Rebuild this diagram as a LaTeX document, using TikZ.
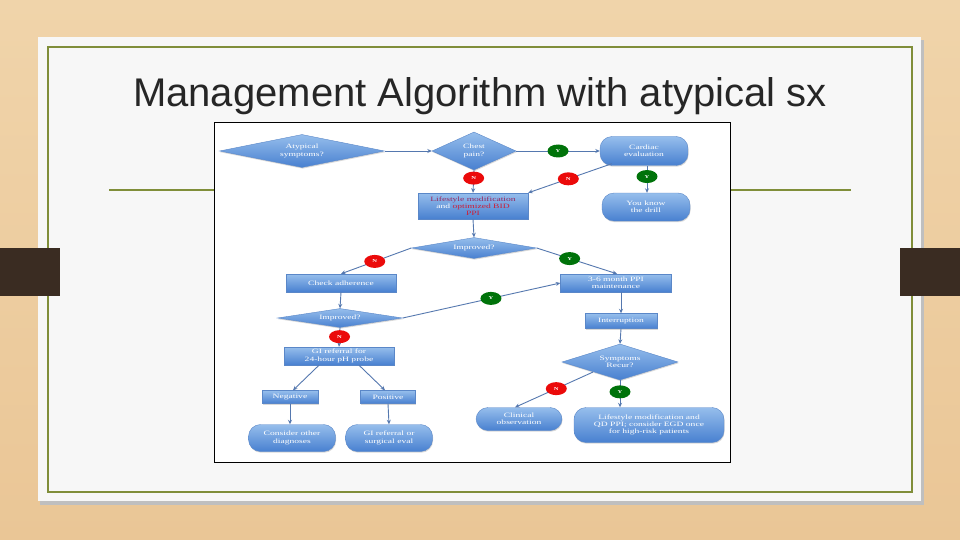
\documentclass[tikz,border=0pt]{standalone}
\usepackage{fontspec}
\setmainfont{Liberation Serif}
\newfontfamily\titlefont{Liberation Sans}
\newfontfamily\chartfont[FakeStretch=1.45]{Liberation Serif}
\usetikzlibrary{arrows.meta,positioning,shapes.geometric,shadows}
\definecolor{woodtop}{RGB}{240,212,170}
\definecolor{woodbot}{RGB}{234,198,150}
\definecolor{tabbrown}{RGB}{58,44,34}
\definecolor{slidegreen}{RGB}{128,142,58}
\definecolor{boxtop}{RGB}{150,190,236}
\definecolor{boxbot}{RGB}{72,128,208}
\definecolor{boxedge}{RGB}{90,135,200}
\definecolor{arrowc}{RGB}{85,120,175}
\definecolor{yesgreen}{RGB}{0,115,10}
\definecolor{nored}{RGB}{235,10,10}
\definecolor{lifepurple}{RGB}{150,40,95}
\definecolor{lifered}{RGB}{205,30,55}

\begin{document}
\begin{tikzpicture}[x=1pt,y=-1pt,
  every node/.style={font=\chartfont\fontsize{6.6}{7.3}\selectfont,text=white},
  box/.style={draw=boxedge,top color=boxtop,bottom color=boxbot,align=center,
              inner sep=1pt,drop shadow={shadow xshift=0.6pt,shadow yshift=-1.2pt,opacity=0.3}},
  term/.style={box,rounded corners=12pt},
  dec/.style={diamond,draw=boxedge,top color=boxtop,bottom color=boxbot,
              align=center,inner sep=0pt,drop shadow={shadow xshift=0.6pt,shadow yshift=-1.2pt,opacity=0.3}},
  arr/.style={-{Stealth[length=4.5pt,width=4pt]},draw=arrowc,line width=0.9pt},
  yes/.style={ellipse,fill=yesgreen,minimum width=21,minimum height=13,
              inner sep=0pt,font=\chartfont\fontsize{4.5}{5}\selectfont\bfseries},
  no/.style={yes,fill=nored}
]
\useasboundingbox (0,0) rectangle (960,540);
% slide background
\shade[top color=woodtop,bottom color=woodbot] (0,0) rectangle (960,540);
\fill[black!25] (40,40) rectangle (924,505);
\fill[white!97!black] (38,37) rectangle (921,501);
\draw[slidegreen,line width=1.3pt] (48,47) rectangle (912,492);
\draw[slidegreen,line width=1.3pt] (109,190) -- (851,190);
\fill[tabbrown] (0,248) rectangle (60,296);
\fill[tabbrown] (900,248) rectangle (960,296);
\node[font=\titlefont\fontsize{40}{44}\selectfont,text=black!85] (title)
 at (480,96) {Management Algorithm with atypical sx};
% the chart
\draw[black,line width=0.8pt,fill=white] (214,122) rectangle (730,462);

\node[dec,minimum width=165,minimum height=33,aspect=5] (atyp) at (302,151)
 {Atypical\\symptoms?};
\node[dec,minimum width=84,minimum height=38,aspect=2.2] (chest) at (474,151)
 {Chest\\pain?};
\node[term,minimum width=88,minimum height=29] (card) at (644,151)
 {Cardiac\\evaluation};
\node[term,minimum width=88,minimum height=28] (drill) at (646,207)
 {You know\\the drill};
\node[box,minimum width=110,minimum height=26] (life) at (473,206)
 {{\color{lifepurple}Lifestyle modification}\\and {\color{lifered}optimized BID}\\{\color{lifered}PPI}};
\node[dec,minimum width=125,minimum height=21,aspect=6] (imp1) at (474,248)
 {Improved?};
\node[box,minimum width=110,minimum height=18] (check) at (341,283)
 {Check adherence};
\node[box,minimum width=111,minimum height=18] (maint) at (616,283)
 {3-6 month PPI\\maintenance};
\node[dec,minimum width=125,minimum height=19,aspect=6.5] (imp2) at (340,318)
 {Improved?};
\node[box,minimum width=72,minimum height=15] (intr) at (621,321)
 {Interruption};
\node[dec,minimum width=116,minimum height=36,aspect=3.2] (recur) at (620,362)
 {Symptoms\\Recur?};
\node[box,minimum width=110,minimum height=18] (gi) at (339,356)
 {GI referral for\\24-hour pH probe};
\node[box,minimum width=56,minimum height=13] (neg) at (290,397) {Negative};
\node[box,minimum width=55,minimum height=13] (pos) at (388,397) {Positive};
\node[term,minimum width=87,minimum height=27] (cons) at (292,438)
 {Consider other\\diagnoses};
\node[term,minimum width=87,minimum height=27] (giref) at (389,438)
 {GI referral or\\surgical eval};
\node[term,minimum width=86,minimum height=23] (clin) at (519,419)
 {Clinical\\observation};
\node[term,minimum width=150,minimum height=35] (qd) at (649,425)
 {Lifestyle modification and\\QD PPI; consider EGD once\\for high-risk patients};

\draw[arr] (atyp.east) -- (chest.west);
\draw[arr] (chest.east) -- node[yes]{Y} (card.west);
\draw[arr] (chest.south) -- node[no,pos=0.35]{N} (life.north);
\draw[arr] (card.south west) ++(12,-2) -- node[no,pos=0.52]{N} (life.north east);
\draw[arr] (card.south) ++(3,0) -- node[yes,pos=0.4]{Y} ([xshift=1pt]drill.north);
\draw[arr] (life.south) -- (imp1.north);
\draw[arr] (imp1.west) -- node[no,pos=0.52]{N} (check.north);
\draw[arr] (imp1.east) -- node[yes,pos=0.41]{Y} ([xshift=1pt]maint.north);
\draw[arr] (check.south) -- (imp2.north);
\draw[arr] (imp2.east) -- node[yes,pos=0.56]{Y} (maint.west);
\draw[arr] (imp2.south) -- node[no,pos=0.47]{N} (gi.north);
\draw[arr] ([xshift=-20pt]gi.south) -- ([xshift=3pt]neg.north);
\draw[arr] ([xshift=20pt]gi.south) -- ([xshift=-3pt]pos.north);
\draw[arr] (neg.south) -- ([xshift=-2pt]cons.north);
\draw[arr] (pos.south) -- (giref.north);
\draw[arr] ([xshift=5pt]maint.south) -- (intr.north);
\draw[arr] (intr.south) -- (recur.north);
\draw[arr] (recur.south west) ++(2,1) -- node[no,pos=0.47]{N} ([xshift=-4pt]clin.north);
\draw[arr] (recur.south) -- node[yes,pos=0.43]{Y} ([xshift=-29pt]qd.north);
\end{tikzpicture}
\end{document}
